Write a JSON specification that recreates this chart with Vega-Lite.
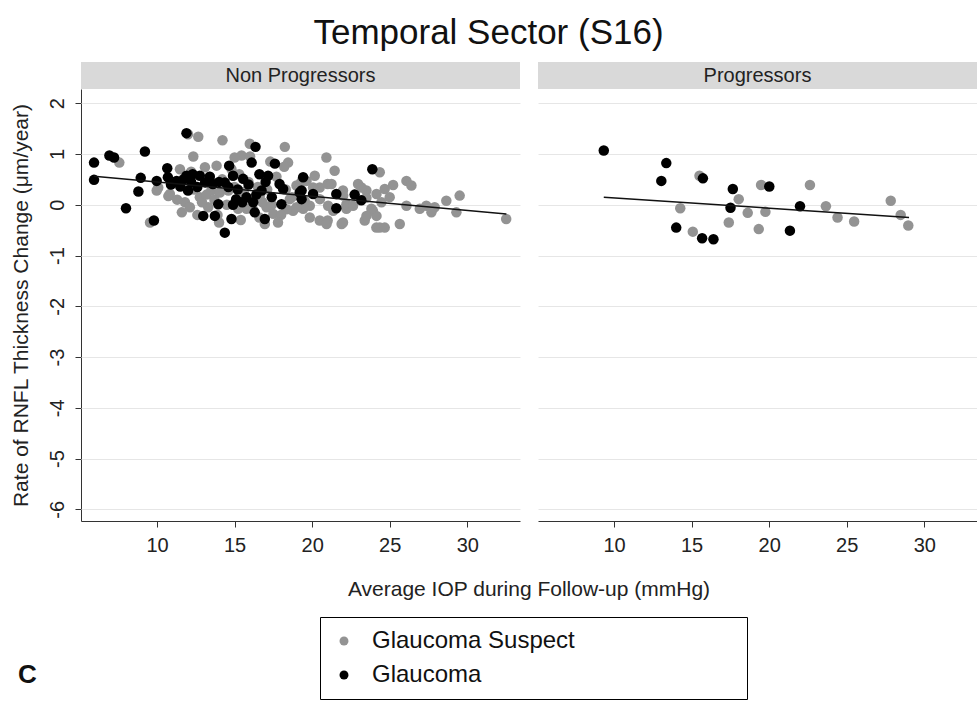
{
  "$schema": "https://vega.github.io/schema/vega-lite/v6.json",
  "padding": {"left": 10, "top": 16, "right": 0, "bottom": 0},
  "background": "white",
  "title": {"text": "Temporal Sector (S16)", "fontSize": 35, "font": "Liberation Sans", "fontWeight": "normal", "color": "#111", "anchor": "middle", "offset": 11, "dx": -5},
  "config": {
    "view": {"stroke": null},
    "font": "Liberation Sans",
    "axis": {"labelFont": "Liberation Sans", "titleFont": "Liberation Sans", "labelColor": "#222", "titleColor": "#222", "domainColor": "#333", "tickColor": "#333", "labelFontSize": 20, "titleFontSize": 21, "titleFontWeight": "normal", "tickSize": 6}
  },
  "data": {"values": [
    {"panel":"Non Progressors","group":"Glaucoma Suspect","kind":"point","iop":12.0,"rate":1.39},
    {"panel":"Non Progressors","group":"Glaucoma Suspect","kind":"point","iop":12.66,"rate":1.34},
    {"panel":"Non Progressors","group":"Glaucoma Suspect","kind":"point","iop":14.22,"rate":1.27},
    {"panel":"Non Progressors","group":"Glaucoma Suspect","kind":"point","iop":12.34,"rate":0.95},
    {"panel":"Non Progressors","group":"Glaucoma Suspect","kind":"point","iop":7.57,"rate":0.83},
    {"panel":"Non Progressors","group":"Glaucoma Suspect","kind":"point","iop":15.98,"rate":1.2},
    {"panel":"Non Progressors","group":"Glaucoma Suspect","kind":"point","iop":18.24,"rate":1.14},
    {"panel":"Non Progressors","group":"Glaucoma Suspect","kind":"point","iop":18.45,"rate":0.83},
    {"panel":"Non Progressors","group":"Glaucoma Suspect","kind":"point","iop":15.45,"rate":0.97},
    {"panel":"Non Progressors","group":"Glaucoma Suspect","kind":"point","iop":15.0,"rate":0.93},
    {"panel":"Non Progressors","group":"Glaucoma Suspect","kind":"point","iop":13.84,"rate":0.77},
    {"panel":"Non Progressors","group":"Glaucoma Suspect","kind":"point","iop":13.09,"rate":0.74},
    {"panel":"Non Progressors","group":"Glaucoma Suspect","kind":"point","iop":10.83,"rate":0.21},
    {"panel":"Non Progressors","group":"Glaucoma Suspect","kind":"point","iop":11.8,"rate":0.05},
    {"panel":"Non Progressors","group":"Glaucoma Suspect","kind":"point","iop":12.76,"rate":0.15},
    {"panel":"Non Progressors","group":"Glaucoma Suspect","kind":"point","iop":13.3,"rate":-0.05},
    {"panel":"Non Progressors","group":"Glaucoma Suspect","kind":"point","iop":12.6,"rate":-0.2},
    {"panel":"Non Progressors","group":"Glaucoma Suspect","kind":"point","iop":13.5,"rate":0.28},
    {"panel":"Non Progressors","group":"Glaucoma Suspect","kind":"point","iop":14.05,"rate":0.24},
    {"panel":"Non Progressors","group":"Glaucoma Suspect","kind":"point","iop":14.6,"rate":0.28},
    {"panel":"Non Progressors","group":"Glaucoma Suspect","kind":"point","iop":15.77,"rate":-0.08},
    {"panel":"Non Progressors","group":"Glaucoma Suspect","kind":"point","iop":17.06,"rate":-0.05},
    {"panel":"Non Progressors","group":"Glaucoma Suspect","kind":"point","iop":17.5,"rate":-0.18},
    {"panel":"Non Progressors","group":"Glaucoma Suspect","kind":"point","iop":18.56,"rate":0.11},
    {"panel":"Non Progressors","group":"Glaucoma Suspect","kind":"point","iop":18.77,"rate":-0.12},
    {"panel":"Non Progressors","group":"Glaucoma Suspect","kind":"point","iop":18.99,"rate":0.38},
    {"panel":"Non Progressors","group":"Glaucoma Suspect","kind":"point","iop":19.85,"rate":-0.02},
    {"panel":"Non Progressors","group":"Glaucoma Suspect","kind":"point","iop":20.17,"rate":0.57},
    {"panel":"Non Progressors","group":"Glaucoma Suspect","kind":"point","iop":20.49,"rate":0.34},
    {"panel":"Non Progressors","group":"Glaucoma Suspect","kind":"point","iop":20.92,"rate":0.93},
    {"panel":"Non Progressors","group":"Glaucoma Suspect","kind":"point","iop":21.0,"rate":0.41},
    {"panel":"Non Progressors","group":"Glaucoma Suspect","kind":"point","iop":21.45,"rate":0.67},
    {"panel":"Non Progressors","group":"Glaucoma Suspect","kind":"point","iop":21.99,"rate":0.28},
    {"panel":"Non Progressors","group":"Glaucoma Suspect","kind":"point","iop":22.2,"rate":-0.05},
    {"panel":"Non Progressors","group":"Glaucoma Suspect","kind":"point","iop":20.49,"rate":-0.31},
    {"panel":"Non Progressors","group":"Glaucoma Suspect","kind":"point","iop":21.0,"rate":-0.31},
    {"panel":"Non Progressors","group":"Glaucoma Suspect","kind":"point","iop":21.99,"rate":-0.35},
    {"panel":"Non Progressors","group":"Glaucoma Suspect","kind":"point","iop":22.96,"rate":0.41},
    {"panel":"Non Progressors","group":"Glaucoma Suspect","kind":"point","iop":23.5,"rate":0.28},
    {"panel":"Non Progressors","group":"Glaucoma Suspect","kind":"point","iop":23.39,"rate":-0.31},
    {"panel":"Non Progressors","group":"Glaucoma Suspect","kind":"point","iop":23.92,"rate":-0.12},
    {"panel":"Non Progressors","group":"Glaucoma Suspect","kind":"point","iop":24.14,"rate":-0.45},
    {"panel":"Non Progressors","group":"Glaucoma Suspect","kind":"point","iop":9.55,"rate":-0.35},
    {"panel":"Non Progressors","group":"Glaucoma Suspect","kind":"point","iop":10.08,"rate":0.34},
    {"panel":"Non Progressors","group":"Glaucoma Suspect","kind":"point","iop":11.48,"rate":0.7},
    {"panel":"Non Progressors","group":"Glaucoma Suspect","kind":"point","iop":12.12,"rate":-0.05},
    {"panel":"Non Progressors","group":"Glaucoma Suspect","kind":"point","iop":15.23,"rate":-0.08},
    {"panel":"Non Progressors","group":"Glaucoma Suspect","kind":"point","iop":16.95,"rate":-0.38},
    {"panel":"Non Progressors","group":"Glaucoma Suspect","kind":"point","iop":16.63,"rate":0.18},
    {"panel":"Non Progressors","group":"Glaucoma Suspect","kind":"point","iop":18.35,"rate":-0.09},
    {"panel":"Non Progressors","group":"Glaucoma Suspect","kind":"point","iop":19.52,"rate":0.08},
    {"panel":"Non Progressors","group":"Glaucoma Suspect","kind":"point","iop":19.85,"rate":-0.25},
    {"panel":"Non Progressors","group":"Glaucoma Suspect","kind":"point","iop":20.06,"rate":0.34},
    {"panel":"Non Progressors","group":"Glaucoma Suspect","kind":"point","iop":19.64,"rate":0.47},
    {"panel":"Non Progressors","group":"Glaucoma Suspect","kind":"point","iop":21.25,"rate":0.41},
    {"panel":"Non Progressors","group":"Glaucoma Suspect","kind":"point","iop":22.0,"rate":0.18},
    {"panel":"Non Progressors","group":"Glaucoma Suspect","kind":"point","iop":23.18,"rate":0.34},
    {"panel":"Non Progressors","group":"Glaucoma Suspect","kind":"point","iop":24.36,"rate":0.64},
    {"panel":"Non Progressors","group":"Glaucoma Suspect","kind":"point","iop":24.15,"rate":0.21},
    {"panel":"Non Progressors","group":"Glaucoma Suspect","kind":"point","iop":24.68,"rate":0.31},
    {"panel":"Non Progressors","group":"Glaucoma Suspect","kind":"point","iop":25.22,"rate":0.39},
    {"panel":"Non Progressors","group":"Glaucoma Suspect","kind":"point","iop":25.0,"rate":0.15},
    {"panel":"Non Progressors","group":"Glaucoma Suspect","kind":"point","iop":26.08,"rate":0.47},
    {"panel":"Non Progressors","group":"Glaucoma Suspect","kind":"point","iop":26.4,"rate":0.38},
    {"panel":"Non Progressors","group":"Glaucoma Suspect","kind":"point","iop":26.08,"rate":-0.02},
    {"panel":"Non Progressors","group":"Glaucoma Suspect","kind":"point","iop":27.36,"rate":-0.02},
    {"panel":"Non Progressors","group":"Glaucoma Suspect","kind":"point","iop":27.9,"rate":-0.05},
    {"panel":"Non Progressors","group":"Glaucoma Suspect","kind":"point","iop":27.69,"rate":-0.15},
    {"panel":"Non Progressors","group":"Glaucoma Suspect","kind":"point","iop":28.65,"rate":0.08},
    {"panel":"Non Progressors","group":"Glaucoma Suspect","kind":"point","iop":29.51,"rate":0.18},
    {"panel":"Non Progressors","group":"Glaucoma Suspect","kind":"point","iop":29.3,"rate":-0.15},
    {"panel":"Non Progressors","group":"Glaucoma Suspect","kind":"point","iop":32.51,"rate":-0.28},
    {"panel":"Non Progressors","group":"Glaucoma Suspect","kind":"point","iop":20.93,"rate":-0.38},
    {"panel":"Non Progressors","group":"Glaucoma Suspect","kind":"point","iop":21.9,"rate":-0.38},
    {"panel":"Non Progressors","group":"Glaucoma Suspect","kind":"point","iop":24.36,"rate":-0.45},
    {"panel":"Non Progressors","group":"Glaucoma Suspect","kind":"point","iop":24.68,"rate":-0.45},
    {"panel":"Non Progressors","group":"Glaucoma Suspect","kind":"point","iop":25.65,"rate":-0.38},
    {"panel":"Non Progressors","group":"Glaucoma Suspect","kind":"point","iop":24.15,"rate":-0.22},
    {"panel":"Non Progressors","group":"Glaucoma Suspect","kind":"point","iop":23.82,"rate":-0.08},
    {"panel":"Non Progressors","group":"Glaucoma Suspect","kind":"point","iop":22.21,"rate":-0.08},
    {"panel":"Non Progressors","group":"Glaucoma Suspect","kind":"point","iop":21.36,"rate":-0.12},
    {"panel":"Non Progressors","group":"Glaucoma Suspect","kind":"point","iop":19.42,"rate":-0.08},
    {"panel":"Non Progressors","group":"Glaucoma Suspect","kind":"point","iop":20.5,"rate":0.11},
    {"panel":"Non Progressors","group":"Glaucoma Suspect","kind":"point","iop":21.03,"rate":-0.02},
    {"panel":"Non Progressors","group":"Glaucoma Suspect","kind":"point","iop":22.21,"rate":0.01},
    {"panel":"Non Progressors","group":"Glaucoma Suspect","kind":"point","iop":22.64,"rate":-0.02},
    {"panel":"Non Progressors","group":"Glaucoma Suspect","kind":"point","iop":23.5,"rate":0.14},
    {"panel":"Non Progressors","group":"Glaucoma Suspect","kind":"point","iop":24.47,"rate":0.05},
    {"panel":"Non Progressors","group":"Glaucoma Suspect","kind":"point","iop":26.94,"rate":-0.08},
    {"panel":"Non Progressors","group":"Glaucoma Suspect","kind":"point","iop":23.5,"rate":-0.22},
    {"panel":"Non Progressors","group":"Glaucoma Suspect","kind":"point","iop":9.98,"rate":0.28},
    {"panel":"Non Progressors","group":"Glaucoma Suspect","kind":"point","iop":10.73,"rate":0.17},
    {"panel":"Non Progressors","group":"Glaucoma Suspect","kind":"point","iop":11.3,"rate":0.1},
    {"panel":"Non Progressors","group":"Glaucoma Suspect","kind":"point","iop":11.6,"rate":-0.15},
    {"panel":"Non Progressors","group":"Glaucoma Suspect","kind":"point","iop":12.4,"rate":0.3},
    {"panel":"Non Progressors","group":"Glaucoma Suspect","kind":"point","iop":12.9,"rate":0.05},
    {"panel":"Non Progressors","group":"Glaucoma Suspect","kind":"point","iop":13.2,"rate":0.2},
    {"panel":"Non Progressors","group":"Glaucoma Suspect","kind":"point","iop":13.7,"rate":0.1},
    {"panel":"Non Progressors","group":"Glaucoma Suspect","kind":"point","iop":13.9,"rate":-0.2},
    {"panel":"Non Progressors","group":"Glaucoma Suspect","kind":"point","iop":14.2,"rate":0.5},
    {"panel":"Non Progressors","group":"Glaucoma Suspect","kind":"point","iop":14.5,"rate":0.0},
    {"panel":"Non Progressors","group":"Glaucoma Suspect","kind":"point","iop":15.0,"rate":0.35},
    {"panel":"Non Progressors","group":"Glaucoma Suspect","kind":"point","iop":15.3,"rate":0.6},
    {"panel":"Non Progressors","group":"Glaucoma Suspect","kind":"point","iop":15.6,"rate":0.25},
    {"panel":"Non Progressors","group":"Glaucoma Suspect","kind":"point","iop":15.9,"rate":0.45},
    {"panel":"Non Progressors","group":"Glaucoma Suspect","kind":"point","iop":16.2,"rate":-0.1},
    {"panel":"Non Progressors","group":"Glaucoma Suspect","kind":"point","iop":16.5,"rate":0.35},
    {"panel":"Non Progressors","group":"Glaucoma Suspect","kind":"point","iop":16.8,"rate":0.05},
    {"panel":"Non Progressors","group":"Glaucoma Suspect","kind":"point","iop":17.1,"rate":0.3},
    {"panel":"Non Progressors","group":"Glaucoma Suspect","kind":"point","iop":17.4,"rate":0.0},
    {"panel":"Non Progressors","group":"Glaucoma Suspect","kind":"point","iop":17.7,"rate":0.55},
    {"panel":"Non Progressors","group":"Glaucoma Suspect","kind":"point","iop":18.0,"rate":-0.2},
    {"panel":"Non Progressors","group":"Glaucoma Suspect","kind":"point","iop":18.3,"rate":0.3},
    {"panel":"Non Progressors","group":"Glaucoma Suspect","kind":"point","iop":18.7,"rate":0.15},
    {"panel":"Non Progressors","group":"Glaucoma Suspect","kind":"point","iop":19.0,"rate":-0.05},
    {"panel":"Non Progressors","group":"Glaucoma Suspect","kind":"point","iop":19.3,"rate":0.45},
    {"panel":"Non Progressors","group":"Glaucoma Suspect","kind":"point","iop":12.2,"rate":0.65},
    {"panel":"Non Progressors","group":"Glaucoma Suspect","kind":"point","iop":13.4,"rate":0.55},
    {"panel":"Non Progressors","group":"Glaucoma Suspect","kind":"point","iop":14.8,"rate":0.7},
    {"panel":"Non Progressors","group":"Glaucoma Suspect","kind":"point","iop":16.0,"rate":0.95},
    {"panel":"Non Progressors","group":"Glaucoma Suspect","kind":"point","iop":17.3,"rate":0.85},
    {"panel":"Non Progressors","group":"Glaucoma Suspect","kind":"point","iop":18.2,"rate":0.75},
    {"panel":"Non Progressors","group":"Glaucoma Suspect","kind":"point","iop":14.0,"rate":-0.35},
    {"panel":"Non Progressors","group":"Glaucoma Suspect","kind":"point","iop":15.4,"rate":-0.3},
    {"panel":"Non Progressors","group":"Glaucoma Suspect","kind":"point","iop":17.8,"rate":-0.35},
    {"panel":"Non Progressors","group":"Glaucoma Suspect","kind":"point","iop":16.6,"rate":-0.25},
    {"panel":"Non Progressors","group":"Glaucoma","kind":"point","iop":5.94,"rate":0.83},
    {"panel":"Non Progressors","group":"Glaucoma","kind":"point","iop":5.94,"rate":0.49},
    {"panel":"Non Progressors","group":"Glaucoma","kind":"point","iop":6.93,"rate":0.97},
    {"panel":"Non Progressors","group":"Glaucoma","kind":"point","iop":7.23,"rate":0.93},
    {"panel":"Non Progressors","group":"Glaucoma","kind":"point","iop":9.22,"rate":1.05},
    {"panel":"Non Progressors","group":"Glaucoma","kind":"point","iop":8.95,"rate":0.53},
    {"panel":"Non Progressors","group":"Glaucoma","kind":"point","iop":8.8,"rate":0.26},
    {"panel":"Non Progressors","group":"Glaucoma","kind":"point","iop":8.0,"rate":-0.07},
    {"panel":"Non Progressors","group":"Glaucoma","kind":"point","iop":9.8,"rate":-0.31},
    {"panel":"Non Progressors","group":"Glaucoma","kind":"point","iop":9.98,"rate":0.47},
    {"panel":"Non Progressors","group":"Glaucoma","kind":"point","iop":10.66,"rate":0.72},
    {"panel":"Non Progressors","group":"Glaucoma","kind":"point","iop":10.7,"rate":0.54},
    {"panel":"Non Progressors","group":"Glaucoma","kind":"point","iop":11.26,"rate":0.47},
    {"panel":"Non Progressors","group":"Glaucoma","kind":"point","iop":11.9,"rate":1.41},
    {"panel":"Non Progressors","group":"Glaucoma","kind":"point","iop":11.5,"rate":0.36},
    {"panel":"Non Progressors","group":"Glaucoma","kind":"point","iop":11.9,"rate":0.57},
    {"panel":"Non Progressors","group":"Glaucoma","kind":"point","iop":12.3,"rate":0.6},
    {"panel":"Non Progressors","group":"Glaucoma","kind":"point","iop":12.76,"rate":0.57},
    {"panel":"Non Progressors","group":"Glaucoma","kind":"point","iop":13.1,"rate":0.44},
    {"panel":"Non Progressors","group":"Glaucoma","kind":"point","iop":13.6,"rate":0.41},
    {"panel":"Non Progressors","group":"Glaucoma","kind":"point","iop":12.0,"rate":0.28},
    {"panel":"Non Progressors","group":"Glaucoma","kind":"point","iop":12.98,"rate":-0.22},
    {"panel":"Non Progressors","group":"Glaucoma","kind":"point","iop":13.73,"rate":-0.22},
    {"panel":"Non Progressors","group":"Glaucoma","kind":"point","iop":13.95,"rate":0.01},
    {"panel":"Non Progressors","group":"Glaucoma","kind":"point","iop":14.37,"rate":0.44},
    {"panel":"Non Progressors","group":"Glaucoma","kind":"point","iop":14.65,"rate":0.77},
    {"panel":"Non Progressors","group":"Glaucoma","kind":"point","iop":14.8,"rate":-0.28},
    {"panel":"Non Progressors","group":"Glaucoma","kind":"point","iop":14.37,"rate":-0.55},
    {"panel":"Non Progressors","group":"Glaucoma","kind":"point","iop":14.9,"rate":0.57},
    {"panel":"Non Progressors","group":"Glaucoma","kind":"point","iop":15.55,"rate":0.51},
    {"panel":"Non Progressors","group":"Glaucoma","kind":"point","iop":15.1,"rate":0.11},
    {"panel":"Non Progressors","group":"Glaucoma","kind":"point","iop":15.77,"rate":0.15},
    {"panel":"Non Progressors","group":"Glaucoma","kind":"point","iop":16.1,"rate":0.83},
    {"panel":"Non Progressors","group":"Glaucoma","kind":"point","iop":16.35,"rate":1.14},
    {"panel":"Non Progressors","group":"Glaucoma","kind":"point","iop":16.3,"rate":-0.15},
    {"panel":"Non Progressors","group":"Glaucoma","kind":"point","iop":16.6,"rate":0.6},
    {"panel":"Non Progressors","group":"Glaucoma","kind":"point","iop":17.16,"rate":0.57},
    {"panel":"Non Progressors","group":"Glaucoma","kind":"point","iop":16.95,"rate":-0.28},
    {"panel":"Non Progressors","group":"Glaucoma","kind":"point","iop":16.74,"rate":0.28},
    {"panel":"Non Progressors","group":"Glaucoma","kind":"point","iop":17.6,"rate":0.81},
    {"panel":"Non Progressors","group":"Glaucoma","kind":"point","iop":17.9,"rate":0.41},
    {"panel":"Non Progressors","group":"Glaucoma","kind":"point","iop":18.13,"rate":0.31},
    {"panel":"Non Progressors","group":"Glaucoma","kind":"point","iop":18.02,"rate":0.01},
    {"panel":"Non Progressors","group":"Glaucoma","kind":"point","iop":19.42,"rate":0.54},
    {"panel":"Non Progressors","group":"Glaucoma","kind":"point","iop":19.2,"rate":0.24},
    {"panel":"Non Progressors","group":"Glaucoma","kind":"point","iop":20.06,"rate":0.21},
    {"panel":"Non Progressors","group":"Glaucoma","kind":"point","iop":21.56,"rate":0.21},
    {"panel":"Non Progressors","group":"Glaucoma","kind":"point","iop":21.56,"rate":-0.07},
    {"panel":"Non Progressors","group":"Glaucoma","kind":"point","iop":22.74,"rate":0.2},
    {"panel":"Non Progressors","group":"Glaucoma","kind":"point","iop":23.17,"rate":0.09},
    {"panel":"Non Progressors","group":"Glaucoma","kind":"point","iop":23.88,"rate":0.7},
    {"panel":"Non Progressors","group":"Glaucoma","kind":"point","iop":19.32,"rate":0.28},
    {"panel":"Non Progressors","group":"Glaucoma","kind":"point","iop":19.32,"rate":0.11},
    {"panel":"Non Progressors","group":"Glaucoma","kind":"point","iop":10.9,"rate":0.4},
    {"panel":"Non Progressors","group":"Glaucoma","kind":"point","iop":11.7,"rate":0.5},
    {"panel":"Non Progressors","group":"Glaucoma","kind":"point","iop":12.2,"rate":0.45},
    {"panel":"Non Progressors","group":"Glaucoma","kind":"point","iop":12.6,"rate":0.35},
    {"panel":"Non Progressors","group":"Glaucoma","kind":"point","iop":13.4,"rate":0.55},
    {"panel":"Non Progressors","group":"Glaucoma","kind":"point","iop":14.0,"rate":0.45},
    {"panel":"Non Progressors","group":"Glaucoma","kind":"point","iop":14.6,"rate":0.35},
    {"panel":"Non Progressors","group":"Glaucoma","kind":"point","iop":15.2,"rate":0.3},
    {"panel":"Non Progressors","group":"Glaucoma","kind":"point","iop":15.9,"rate":0.4},
    {"panel":"Non Progressors","group":"Glaucoma","kind":"point","iop":16.4,"rate":0.2},
    {"panel":"Non Progressors","group":"Glaucoma","kind":"point","iop":17.0,"rate":0.45},
    {"panel":"Non Progressors","group":"Glaucoma","kind":"point","iop":17.4,"rate":0.15},
    {"panel":"Non Progressors","group":"Glaucoma","kind":"point","iop":15.5,"rate":0.05},
    {"panel":"Non Progressors","group":"Glaucoma","kind":"point","iop":14.9,"rate":0.0},
    {"panel":"Non Progressors","group":"Glaucoma","kind":"point","iop":16.2,"rate":0.05},
    {"panel":"Progressors","group":"Glaucoma Suspect","kind":"point","iop":15.51,"rate":0.57},
    {"panel":"Progressors","group":"Glaucoma Suspect","kind":"point","iop":19.48,"rate":0.39},
    {"panel":"Progressors","group":"Glaucoma Suspect","kind":"point","iop":22.63,"rate":0.39},
    {"panel":"Progressors","group":"Glaucoma Suspect","kind":"point","iop":18.04,"rate":0.11},
    {"panel":"Progressors","group":"Glaucoma Suspect","kind":"point","iop":14.27,"rate":-0.07},
    {"panel":"Progressors","group":"Glaucoma Suspect","kind":"point","iop":18.62,"rate":-0.16},
    {"panel":"Progressors","group":"Glaucoma Suspect","kind":"point","iop":19.76,"rate":-0.14},
    {"panel":"Progressors","group":"Glaucoma Suspect","kind":"point","iop":23.66,"rate":-0.03},
    {"panel":"Progressors","group":"Glaucoma Suspect","kind":"point","iop":24.41,"rate":-0.25},
    {"panel":"Progressors","group":"Glaucoma Suspect","kind":"point","iop":25.48,"rate":-0.33},
    {"panel":"Progressors","group":"Glaucoma Suspect","kind":"point","iop":27.84,"rate":0.08},
    {"panel":"Progressors","group":"Glaucoma Suspect","kind":"point","iop":28.48,"rate":-0.2},
    {"panel":"Progressors","group":"Glaucoma Suspect","kind":"point","iop":28.97,"rate":-0.41},
    {"panel":"Progressors","group":"Glaucoma Suspect","kind":"point","iop":17.4,"rate":-0.35},
    {"panel":"Progressors","group":"Glaucoma Suspect","kind":"point","iop":15.08,"rate":-0.53},
    {"panel":"Progressors","group":"Glaucoma Suspect","kind":"point","iop":19.33,"rate":-0.48},
    {"panel":"Progressors","group":"Glaucoma","kind":"point","iop":9.34,"rate":1.07},
    {"panel":"Progressors","group":"Glaucoma","kind":"point","iop":13.37,"rate":0.82},
    {"panel":"Progressors","group":"Glaucoma","kind":"point","iop":13.05,"rate":0.47},
    {"panel":"Progressors","group":"Glaucoma","kind":"point","iop":15.73,"rate":0.52},
    {"panel":"Progressors","group":"Glaucoma","kind":"point","iop":17.66,"rate":0.31},
    {"panel":"Progressors","group":"Glaucoma","kind":"point","iop":20.01,"rate":0.36},
    {"panel":"Progressors","group":"Glaucoma","kind":"point","iop":17.51,"rate":-0.06},
    {"panel":"Progressors","group":"Glaucoma","kind":"point","iop":21.99,"rate":-0.03},
    {"panel":"Progressors","group":"Glaucoma","kind":"point","iop":14.01,"rate":-0.45},
    {"panel":"Progressors","group":"Glaucoma","kind":"point","iop":15.68,"rate":-0.66},
    {"panel":"Progressors","group":"Glaucoma","kind":"point","iop":16.41,"rate":-0.68},
    {"panel":"Progressors","group":"Glaucoma","kind":"point","iop":21.34,"rate":-0.51},
    {"panel":"Non Progressors","group":"fit","kind":"fit","iop":5.94,"rate":0.56},
    {"panel":"Non Progressors","group":"fit","kind":"fit","iop":32.52,"rate":-0.18},
    {"panel":"Progressors","group":"fit","kind":"fit","iop":9.34,"rate":0.146},
    {"panel":"Progressors","group":"fit","kind":"fit","iop":29.02,"rate":-0.249}
  ]},
  "vconcat": [
    {
      "title": {"text": "C", "orient": "bottom", "anchor": "start", "fontSize": 26, "fontWeight": "bold", "color": "#111", "font": "Liberation Sans", "offset": 62, "dx": 8},
      "facet": {"column": {"field": "panel", "type": "nominal", "sort": ["Non Progressors", "Progressors"], "title": "Average IOP during Follow-up (mmHg)",
        "header": {"labels": false, "titleOrient": "bottom", "titleFontSize": 21, "titleFontWeight": "normal", "titleColor": "#222", "titleFont": "Liberation Sans", "titlePadding": 14}}},
      "spacing": 18,
      "spec": {
        "width": 439,
        "height": 432,
        "layer": [
          {
            "transform": [{"filter": "datum.kind === 'point'"}, {"aggregate": [{"op": "count", "as": "n"}], "groupby": ["panel"]}],
            "mark": {"type": "rect", "fill": "#d9d9d9", "clip": false},
            "encoding": {"x": {"datum": 5.1}, "x2": {"datum": 33.4}, "y": {"datum": 2.28}, "y2": {"datum": 2.81}}
          },
          {
            "transform": [{"filter": "datum.kind === 'point'"}, {"aggregate": [{"op": "count", "as": "n"}], "groupby": ["panel"]}],
            "mark": {"type": "text", "fontSize": 20, "color": "#222", "baseline": "middle", "align": "center", "clip": false},
            "encoding": {"text": {"field": "panel"}, "x": {"datum": 19.25}, "y": {"datum": 2.545}}
          },
          {
            "transform": [{"filter": "datum.kind === 'point'"}],
            "mark": {"type": "circle", "size": 110, "opacity": 1},
            "encoding": {
              "x": {"field": "iop", "type": "quantitative", "scale": {"domain": [5.1, 33.4], "nice": false, "zero": false},
                "axis": {"values": [10, 15, 20, 25, 30], "title": null, "grid": false, "labelPadding": 8}},
              "y": {"field": "rate", "type": "quantitative", "scale": {"domain": [-6.23, 2.28], "nice": false, "zero": false},
                "axis": {"values": [-6, -5, -4, -3, -2, -1, 0, 1, 2], "labelExpr": "'' + datum.value", "title": "Rate of RNFL Thickness Change (μm/year)", "grid": true, "gridColor": "#e6e6e6", "labelAngle": 270, "labelAlign": "center", "labelBaseline": "bottom", "labelPadding": 8, "titlePadding": 16}},
              "color": {"field": "group", "type": "nominal", "scale": {"domain": ["Glaucoma Suspect", "Glaucoma"], "range": ["#939393", "#000000"]},
                "legend": {"title": null, "orient": "none", "legendX": 239, "legendY": 528, "direction": "vertical", "strokeColor": "#000", "fillColor": "#fff", "padding": 12, "labelFontSize": 24, "labelColor": "#111", "labelFont": "Liberation Sans", "symbolSize": 80, "symbolType": "circle", "rowPadding": 10, "labelOffset": 16, "labelLimit": 800, "labelExpr": "datum.label + '\u00a0\u00a0\u00a0\u00a0\u00a0\u00a0\u00a0\u00a0\u00a0\u00a0\u00a0\u00a0\u00a0\u00a0\u00a0\u00a0\u00a0\u00a0\u00a0\u00a0\u00a0\u00a0\u00a0\u00a0\u200b'"}}
            }
          },
          {
            "transform": [{"filter": "datum.kind === 'fit'"}],
            "mark": {"type": "line", "color": "#111", "strokeWidth": 1.5},
            "encoding": {"x": {"field": "iop", "type": "quantitative"}, "y": {"field": "rate", "type": "quantitative"}}
          }
        ]
      }
    }
  ]
}
